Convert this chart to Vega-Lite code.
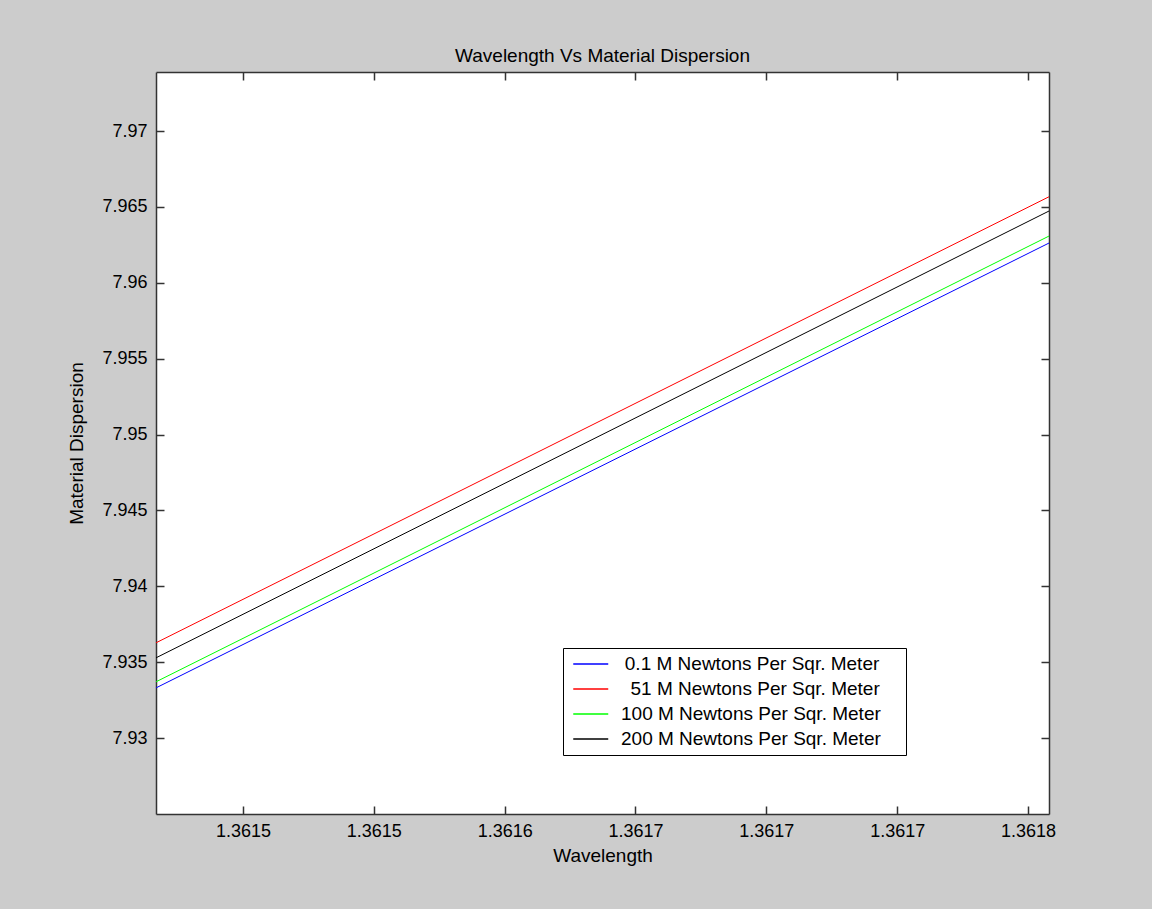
{
  "$schema": "https://vega.github.io/schema/vega-lite/v6.json",
  "width": 893,
  "height": 742,
  "autosize": {"type": "none"},
  "padding": {"left": 156, "top": 72, "right": 103, "bottom": 95},
  "background": "#cccccc",
  "title": {"text": "Wavelength Vs Material Dispersion", "font": "Liberation Sans", "fontSize": 19, "fontWeight": "normal", "color": "black", "offset": 5, "anchor": "middle"},
  "config": {
    "view": {"fill": "white", "stroke": null},
    "axis": {
      "grid": false,
      "domainColor": "#333333",
      "domainWidth": 1.5,
      "tickColor": "#333333",
      "tickWidth": 1.5,
      "tickSize": -8,
      "labelFont": "Liberation Sans",
      "labelFontSize": 18,
      "labelColor": "black",
      "titleFont": "Liberation Sans",
      "titleFontSize": 19,
      "titleFontWeight": "normal",
      "titleColor": "black"
    }
  },
  "data": {
    "values": [
      {"series": "0.1 M Newtons Per Sqr. Meter", "wl": 1.36146675, "md": 7.93331},
      {"series": "0.1 M Newtons Per Sqr. Meter", "wl": 1.36180803, "md": 7.96262},
      {"series": "51 M Newtons Per Sqr. Meter", "wl": 1.36146675, "md": 7.93628},
      {"series": "51 M Newtons Per Sqr. Meter", "wl": 1.36180803, "md": 7.96567},
      {"series": "100 M Newtons Per Sqr. Meter", "wl": 1.36146675, "md": 7.93371},
      {"series": "100 M Newtons Per Sqr. Meter", "wl": 1.36180803, "md": 7.96308},
      {"series": "200 M Newtons Per Sqr. Meter", "wl": 1.36146675, "md": 7.93529},
      {"series": "200 M Newtons Per Sqr. Meter", "wl": 1.36180803, "md": 7.96473}
    ]
  },
  "layer": [
    {
      "mark": {"type": "line", "strokeWidth": 1, "clip": true},
      "encoding": {
        "x": {
          "field": "wl", "type": "quantitative",
          "scale": {"domain": [1.36146675, 1.36180803], "nice": false, "zero": false},
          "axis": {
            "orient": "bottom",
            "values": [1.3615, 1.36155, 1.3616, 1.36165, 1.3617, 1.36175, 1.3618],
            "labelExpr": "datum.value < 1.361575 ? '1.3615' : datum.value < 1.361625 ? '1.3616' : datum.value < 1.361775 ? '1.3617' : '1.3618'",
            "labelPadding": 16,
            "title": "Wavelength",
            "titlePadding": 6
          }
        },
        "y": {
          "field": "md", "type": "quantitative",
          "scale": {"domain": [7.925, 7.97389], "nice": false, "zero": false},
          "axis": {
            "orient": "left",
            "values": [7.93, 7.935, 7.94, 7.945, 7.95, 7.955, 7.96, 7.965, 7.97],
            "format": ".4~g",
            "labelPadding": 17,
            "title": "Material Dispersion",
            "titlePadding": 15
          }
        },
        "color": {
          "field": "series", "type": "nominal",
          "scale": {
            "domain": ["0.1 M Newtons Per Sqr. Meter", "51 M Newtons Per Sqr. Meter", "100 M Newtons Per Sqr. Meter", "200 M Newtons Per Sqr. Meter"],
            "range": ["#0000ff", "#ff0000", "#00ff00", "#000000"]
          },
          "legend": {
            "orient": "none",
            "legendX": 407,
            "legendY": 576,
            "title": null,
            "fillColor": "white",
            "strokeColor": "black",
            "padding": 6,
            "symbolType": "M-0.6,0.057H3.4",
            "symbolSize": 306,
            "symbolStrokeWidth": 1.5,
            "symbolFillColor": "transparent",
            "labelFont": "Liberation Sans",
            "labelFontSize": 19,
            "labelColor": "black",
            "labelOffset": 33,
            "rowPadding": 5,
            "labelLimit": 400,
            "labelExpr": "indexof(datum.label, '51') == 0 ? '\u200b\u2002' + datum.label + '\u2002\u2002\u200b' : indexof(datum.label, '0.1') == 0 ? '\u200b\u2009' + datum.label + '\u2002\u2002\u200b' : datum.label + '\u2002\u2002\u200b'",
            "encode": {
              "symbols": {"update": {"stroke": {"scale": "color", "field": "value"}, "fill": {"value": "transparent"}, "opacity": {"value": 1}, "strokeOpacity": {"value": 1}}}
            }
          }
        }
      }
    },
    {
      "mark": {"type": "line", "strokeOpacity": 0},
      "encoding": {
        "x": {
          "field": "wl", "type": "quantitative",
          "scale": {"domain": [1.36146675, 1.36180803], "nice": false, "zero": false},
          "axis": {"orient": "top", "values": [1.3615, 1.36155, 1.3616, 1.36165, 1.3617, 1.36175, 1.3618], "labels": false, "title": null}
        },
        "y": {
          "field": "md", "type": "quantitative",
          "scale": {"domain": [7.925, 7.97389], "nice": false, "zero": false},
          "axis": {"orient": "right", "values": [7.93, 7.935, 7.94, 7.945, 7.95, 7.955, 7.96, 7.965, 7.97], "labels": false, "title": null}
        },
        "detail": {"field": "series"}
      }
    }
  ],
  "resolve": {"scale": {"x": "independent", "y": "independent"}}
}
